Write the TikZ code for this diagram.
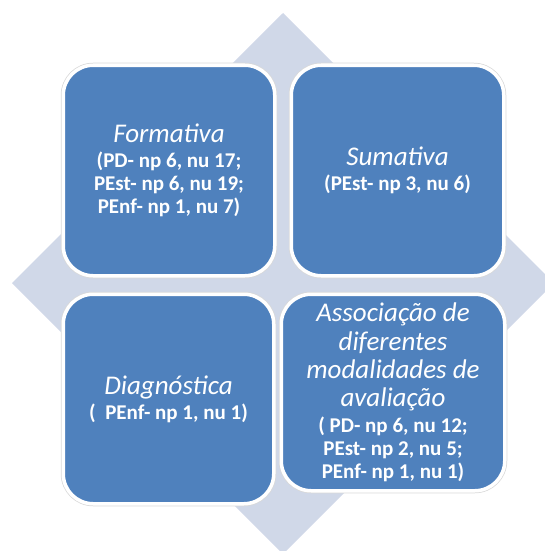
\documentclass[tikz,border=0pt]{standalone}
\usepackage{fontspec}
\setmainfont{Carlito}
\usepackage{tikz}
\definecolor{panelblue}{HTML}{4F81BD}
\definecolor{diamondgray}{HTML}{D0D8E8}
\newcommand{\modo}[1]{{\fontsize{27}{28}\selectfont\mdseries\itshape #1}}

\begin{document}
\begin{tikzpicture}[x=1pt,y=-1pt,
  panel/.style={fill=panelblue,draw=white,line width=3.5pt,rounded corners=30pt,
                preaction={draw=black!15,line width=5pt},
                text=white,align=center,inner sep=0pt,
                font=\fontsize{21}{23}\selectfont\bfseries}
]
  \useasboundingbox (0,0) rectangle (545,551);
  \clip (0,0) rectangle (545,551);
  \fill[diamondgray] (283,13) -- (554,283) -- (283,554) -- (12,283) -- cycle;

  \node[panel,minimum width=211.5pt,minimum height=210.5pt] (formativa) at (169,170.5)
    {\modo{Formativa}\\[2pt] (PD- np 6, nu 17;\\ PEst- np 6, nu 19;\\ PEnf- np 1, nu 7)};
  \node[panel,minimum width=212.5pt,minimum height=210.5pt] (sumativa) at (397.5,170.5)
    {\modo{Sumativa}\\[2pt] (PEst- np 3, nu 6)};
  \node[panel,minimum width=210.5pt,minimum height=209.5pt] (diagnostica) at (168.5,399)
    {\modo{Diagnóstica}\\[2pt] (\ \ PEnf- np 1, nu 1)};
  \node[panel,minimum width=223.5pt,minimum height=196.5pt] (associacao) at (393,392.5)
    {\modo{Associação de}\\[5pt] \modo{diferentes}\\[5pt] \modo{modalidades de}\\[5pt] \modo{avaliação}\\[3pt] (\ PD- np 6, nu 12;\\ PEst- np 2, nu 5;\\ PEnf- np 1, nu 1)};
\end{tikzpicture}
\end{document}
